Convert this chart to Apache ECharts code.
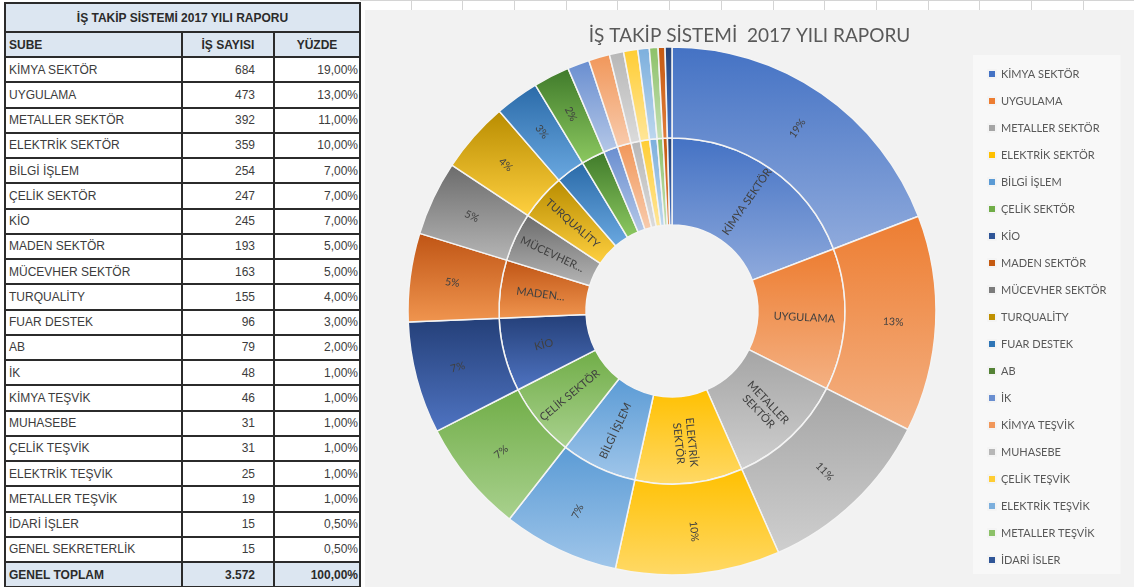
<!DOCTYPE html>
<html><head><meta charset="utf-8">
<script src="https://cdn.jsdelivr.net/npm/echarts@6/dist/echarts.min.js"></script>
<style>
html,body{margin:0;padding:0;background:#fff;width:1134px;height:587px;overflow:hidden;}
#grid{position:absolute;left:360px;top:0;width:774px;height:10px;background:repeating-linear-gradient(to right, transparent 0, transparent 50.7px, #d4d4d4 50.7px, #d4d4d4 51.7px);border-top:1px solid #d4d4d4;box-sizing:border-box;}
#chart{position:absolute;left:365px;top:10px;width:769px;height:577px;background:#f2f2f2;}
#tbl{position:absolute;left:4px;top:2px;border-collapse:collapse;table-layout:fixed;width:355px;font-family:'Liberation Sans',Arial,sans-serif;font-size:12px;color:#3c3c3c;}
#tbl td{border:2px solid #2b2b2b;padding:0 3px;white-space:nowrap;overflow:hidden;box-sizing:border-box;}
#tbl tr.title td{background:#dce6f1;font-weight:bold;text-align:center;color:#2b2b2b;height:29px;}
#tbl tr.head td{background:#dce6f1;font-weight:bold;color:#2b2b2b;height:25px;}
#tbl tr.row td{height:25.25px;background:#fff;}
#tbl tr.tot td{background:#dce6f1;font-weight:bold;color:#2b2b2b;height:25px;}
#tbl td.num{text-align:right;padding-right:18px;}
#tbl td.pct{text-align:right;padding-right:1px;}
#tbl td.c{text-align:center;}
</style></head>
<body>
<div id="grid"></div>
<table id="tbl"></table>
<div id="chart"></div>
<script>
// ---- data ----
const tableTitle = 'İŞ TAKİP SİSTEMİ 2017 YILI RAPORU';
const headers = ['SUBE', 'İŞ SAYISI', 'YÜZDE'];
const categories = ['KİMYA SEKTÖR','UYGULAMA','METALLER SEKTÖR','ELEKTRİK SEKTÖR','BİLGİ İŞLEM','ÇELİK SEKTÖR','KİO','MADEN SEKTÖR','MÜCEVHER SEKTÖR','TURQUALİTY','FUAR DESTEK','AB','İK','KİMYA TEŞVİK','MUHASEBE','ÇELİK TEŞVİK','ELEKTRİK TEŞVİK','METALLER TEŞVİK','İDARİ İŞLER','GENEL SEKRETERLİK'];
const counts = [684,473,392,359,254,247,245,193,163,155,96,79,48,46,31,31,25,19,15,15];
const percentText = ['19,00%','13,00%','11,00%','10,00%','7,00%','7,00%','7,00%','5,00%','5,00%','4,00%','3,00%','2,00%','1,00%','1,00%','1,00%','1,00%','1,00%','1,00%','0,50%','0,50%'];
const totalLabel = 'GENEL TOPLAM';
const totalCount = '3.572';
const totalPct = '100,00%';
const chartTitle = 'İŞ TAKİP SİSTEMİ  2017 YILI RAPORU';
const innerLabels = ['KİMYA SEKTÖR','UYGULAMA','METALLER\nSEKTÖR','ELEKTRİK\nSEKTÖR','BİLGİ İŞLEM','ÇELİK SEKTÖR','KİO','MADEN...','MÜCEVHER...','TURQUALİTY'];
const outerLabels = ['19%','13%','11%','10%','7%','7%','7%','5%','5%','4%','3%','2%'];
const legendNames = ['KİMYA SEKTÖR','UYGULAMA','METALLER SEKTÖR','ELEKTRİK SEKTÖR','BİLGİ İŞLEM','ÇELİK SEKTÖR','KİO','MADEN SEKTÖR','MÜCEVHER SEKTÖR','TURQUALİTY','FUAR DESTEK','AB','İK','KİMYA TEŞVİK','MUHASEBE','ÇELİK TEŞVİK','ELEKTRİK TEŞVİK','METALLER TEŞVİK','İDARİ İSLER'];

// ---- styles ----
const baseColors = ['#4472C4','#ED7D31','#A5A5A5','#FFC000','#5B9BD5','#70AD47','#243F78','#BF5414','#6B6B6B','#B88C00','#2A6AA8','#3F7A2A','#698ED0','#F1975A','#B7B7B7','#FFCD33','#7CAFDD','#8CC168','#C55A11','#264478'];
const lightColors = ['#8FAADC','#F4B183','#CFCFCF','#FFD966','#A0C6EA','#A9D18E','#4F74C2','#F0954F','#B5B5B5','#FFD040','#6AA8E0','#8CC860','#B4C7E7','#F8CBAD','#DBDBDB','#FFE699','#BDD7EE','#C5E0B4','#E07B39','#4472C4'];
const legendColors = ['#4472C4','#ED7D31','#A5A5A5','#FFC000','#5B9BD5','#70AD47','#2F5597','#C55A11','#7B7B7B','#BF9000','#2E75B6','#548235','#698ED0','#F1975A','#B7B7B7','#FFCD33','#7CAFDD','#8CC168','#2F5597'];

// ---- table ----
(function(){
  const t = document.getElementById('tbl');
  let h = '<colgroup><col style="width:177px"><col style="width:92px"><col style="width:86px"></colgroup>';
  h += '<tr class="title"><td colspan="3">' + tableTitle + '</td></tr>';
  h += '<tr class="head"><td>' + headers[0] + '</td><td class="c">' + headers[1] + '</td><td class="c">' + headers[2] + '</td></tr>';
  categories.forEach((c, i) => {
    h += '<tr class="row"><td>' + c + '</td><td class="num">' + counts[i] + '</td><td class="pct">' + percentText[i] + '</td></tr>';
  });
  h += '<tr class="tot"><td>' + totalLabel + '</td><td class="num">' + totalCount + '</td><td class="pct">' + totalPct + '</td></tr>';
  t.innerHTML = h;
})();

// ---- chart ----
const chart = echarts.init(document.getElementById('chart'));
function grad(i){
  return new echarts.graphic.LinearGradient(0,0,0,1,[{offset:0,color:baseColors[i]},{offset:1,color:lightColors[i]}]);
}
function buildData(labels){
  return categories.map((c, i) => ({
    name: c,
    value: counts[i],
    itemStyle: {color: grad(i)},
    label: {show: i < labels.length, formatter: i < labels.length ? labels[i] : ''}
  }));
}
const center = [307, 301];
const commonSeries = {
  type: 'pie',
  center: center,
  startAngle: 90,
  clockwise: true,
  avoidLabelOverlap: false,
  silent: true,
  labelLine: {show: false},
  itemStyle: {borderColor: '#f4f4f4', borderWidth: 1.5},
  emphasis: {disabled: true},
  animation: false
};
chart.setOption({
  backgroundColor: '#f2f2f2',
  title: {
    text: chartTitle,
    left: 'center',
    top: 11,
    textStyle: {fontFamily: 'Lato', fontSize: 19, fontWeight: 'normal', color: '#595959'}
  },
  legend: {
    orient: 'vertical',
    left: 608,
    top: 45,
    padding: [13, 14, 8, 14],
    backgroundColor: '#f8f8f8',
    itemWidth: 8,
    itemHeight: 8,
    itemGap: 15,
    icon: 'rect',
    textStyle: {fontFamily: 'Lato', fontSize: 11, color: '#595959', lineHeight: 12},
    data: legendNames.map((n, i) => ({name: i === 18 ? categories[18] : n, itemStyle: {color: legendColors[i]}})),
    formatter: function(n){ return n === categories[18] ? legendNames[18] : n; },
    selectedMode: false
  },
  series: [
    Object.assign({}, commonSeries, {
      name: 'inner',
      radius: [86, 173],
      label: {position: 'inside', rotate: 'radial', fontFamily: 'Lato', fontSize: 11, color: '#404040', lineHeight: 13},
      data: buildData(innerLabels)
    }),
    Object.assign({}, commonSeries, {
      name: 'outer',
      radius: [173, 264],
      label: {position: 'inside', rotate: 'radial', fontFamily: 'Lato', fontSize: 10.5, color: '#404040'},
      data: buildData(outerLabels)
    })
  ]
});
</script>
</body></html>
